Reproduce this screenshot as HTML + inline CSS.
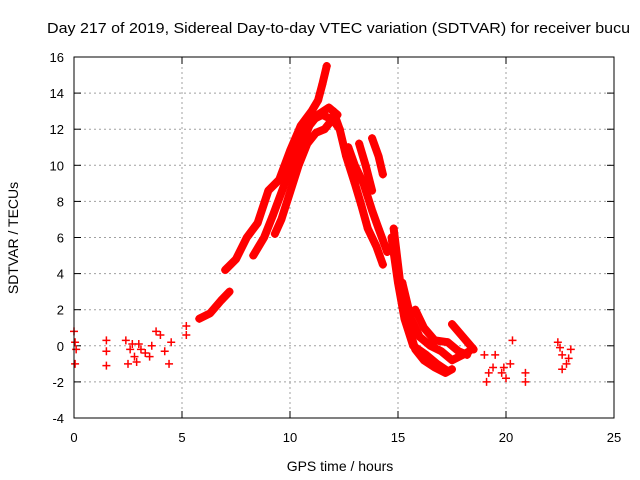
<!DOCTYPE html>
<html><head><meta charset="utf-8"><style>
body{margin:0;background:#fff}
svg{display:block;font-family:"Liberation Sans",sans-serif}
</style></head><body>
<svg id="chart" width="640" height="480">
<rect width="640" height="480" fill="#fff"/>
<text x="47" y="33" font-size="15" textLength="583" lengthAdjust="spacingAndGlyphs" fill="#000">Day 217 of 2019, Sidereal Day-to-day VTEC variation (SDTVAR) for receiver bucu</text>
<text x="340" y="471" font-size="14" text-anchor="middle">GPS time / hours</text>
<text transform="translate(18,238) rotate(-90)" font-size="14" text-anchor="middle">SDTVAR / TECUs</text>
<g id="grid"></g><g id="marks"></g>
<rect x="74" y="57" width="540" height="361" fill="none" stroke="#000" stroke-width="1"/>
</svg>
<script>
const xTicks=[0,5,10,15,20,25];
const yTicks=[-4,-2,0,2,4,6,8,10,12,14,16];
const trackA=[[7.0,4.2],[7.5,4.8],[8.0,6.0],[8.5,6.8],[9.0,8.6],[9.5,9.2],[10.0,10.8],[10.5,12.2],[11.0,13.0],[11.3,13.6],[11.5,14.5],[11.7,15.5]];
const trackB=[[8.3,5.0],[8.8,6.0],[9.2,7.2],[9.7,8.8],[10.2,10.5],[10.6,11.8],[11.0,12.5],[11.5,12.8],[12.0,12.5],[12.3,12.0]];
const trackC=[[9.3,6.2],[9.6,7.0],[10.0,8.5],[10.4,10.0],[10.8,11.2],[11.2,11.8],[11.6,12.0],[12.0,12.6]];
const trackD=[[12.0,13.0],[12.3,12.0],[12.6,10.5],[13.0,9.0],[13.3,7.8],[13.6,6.5],[14.0,5.5],[14.3,4.5]];
const trackE=[[12.7,11.0],[13.0,10.0],[13.4,9.0],[13.8,7.5],[14.1,6.5],[14.5,5.2]];
const trackF=[[13.8,11.5],[14.1,10.5],[14.3,9.5]];
const trackG=[[14.8,6.5],[15.0,4.5],[15.2,2.5],[15.5,1.0],[15.8,-0.2],[16.2,-0.8],[16.7,-1.2],[17.2,-1.5],[17.5,-1.3]];
const trackH=[[15.2,3.5],[15.6,1.5],[16.0,0.5],[16.5,0.0],[17.0,-0.3],[17.5,-0.8],[18.0,-0.5],[18.3,-0.3]];
const trackI=[[15.8,2.0],[16.2,1.0],[16.7,0.3],[17.3,0.2],[17.8,-0.3],[18.2,-0.5]];
const trackJ=[[17.5,1.2],[18.0,0.5],[18.5,-0.2]];
const trackK=[[5.8,1.5],[6.3,1.8],[6.8,2.5],[7.2,3.0]];
const trackL=[[14.7,6.0],[15.0,3.5],[15.3,1.5],[15.7,0.0],[16.3,-0.5],[16.8,-1.0],[17.3,-1.4]];
const trackM=[[10.5,11.0],[10.9,12.2],[11.3,12.8],[11.8,13.2],[12.2,12.8]];
const trackN=[[13.2,11.2],[13.5,10.0],[13.8,8.6]];
const lowA=[[0.0,0.8],[0.05,0.2],[0.1,-0.2],[0.05,-1.0]];
const lowB=[[1.5,0.3],[1.5,-0.3],[1.5,-1.1]];
const lowC=[[2.4,0.3],[2.6,-0.2],[2.8,-0.6],[3.0,0.1],[3.3,-0.4],[3.6,0.0],[3.8,0.8],[4.2,-0.3],[4.4,-1.0],[2.5,-1.0],[4.5,0.2],[2.7,0.1],[3.1,-0.2],[3.5,-0.6],[2.9,-0.9],[4.0,0.6]];
const lowD=[[5.2,0.6],[5.2,1.1]];
const lowE=[[19.0,-0.5],[19.2,-1.5],[19.5,-0.5],[19.8,-1.5],[20.0,-1.8],[20.2,-1.0],[20.3,0.3],[19.1,-2.0],[20.9,-1.5],[20.9,-2.0],[19.4,-1.2],[19.9,-1.2]];
const lowF=[[22.4,0.2],[22.6,-0.5],[22.8,-1.0],[23.0,-0.2],[22.6,-1.3],[22.5,-0.1],[22.9,-0.7]];
const tracks=[trackA,trackB,trackC,trackD,trackE,trackF,trackG,trackH,trackI,trackJ,trackK,trackL,trackM,trackN];
const scatter=[lowA,lowB,lowC,lowD,lowE,lowF];
const X=t=>74+t*21.6, Y=v=>57+(16-v)*18.05;
const NS="http://www.w3.org/2000/svg";
const grid=document.getElementById('grid'), marks=document.getElementById('marks');
function mk(tag,attrs,parent){const e=document.createElementNS(NS,tag);for(const k in attrs)e.setAttribute(k,attrs[k]);parent.appendChild(e);return e;}
xTicks.forEach(t=>{
  if(t>0&&t<25){const g=mk('line',{x1:X(t),x2:X(t),y1:57,y2:418,stroke:'#a0a0a0','stroke-dasharray':'2,3'},grid);
  
  }
  mk('line',{x1:X(t),x2:X(t),y1:418,y2:411,stroke:'#000'},grid);
  mk('line',{x1:X(t),x2:X(t),y1:57,y2:64,stroke:'#000'},grid);
  const l=mk('text',{x:X(t),y:442,'font-size':13,'text-anchor':'middle'},grid);l.textContent=t;
  
  
});
yTicks.forEach(v=>{
  if(v>-4&&v<16){const g=mk('line',{x1:74,x2:614,y1:Y(v),y2:Y(v),stroke:'#a0a0a0','stroke-dasharray':'2,3'},grid);
  
  }
  mk('line',{x1:74,x2:81,y1:Y(v),y2:Y(v),stroke:'#000'},grid);
  mk('line',{x1:614,x2:607,y1:Y(v),y2:Y(v),stroke:'#000'},grid);
  const l=mk('text',{x:64,y:Y(v)+5,'font-size':13,'text-anchor':'end'},grid);l.textContent=v;
  
  
});
function plus(t,v){const p=mk('path',{d:`M${X(t)-4},${Y(v)}h8M${X(t)},${Y(v)-4}v8`,stroke:'#f00','stroke-width':1.5},marks);
  
  }
tracks.forEach(tr=>{
  const pl=mk('polyline',{points:tr.map(p=>X(p[0])+','+Y(p[1])).join(' '),fill:'none',stroke:'#f00','stroke-width':8,'stroke-linejoin':'round','stroke-linecap':'round'},marks);
  
  
  tr.forEach(p=>plus(p[0],p[1]));
});
scatter.forEach(s=>s.forEach(p=>plus(p[0],p[1])));
</script>
</body></html>
